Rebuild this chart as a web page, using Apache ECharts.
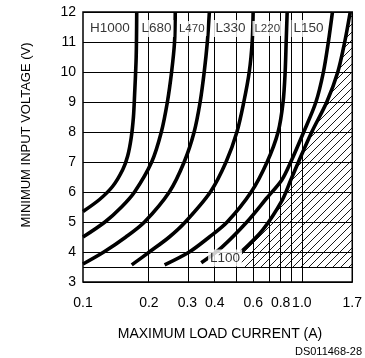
<!DOCTYPE html>
<html>
<head>
<meta charset="utf-8">
<script src="https://cdn.jsdelivr.net/npm/echarts@6/dist/echarts.min.js"></script>
<style>
  html, body { margin: 0; padding: 0; background: #fff; }
  #chart { width: 365px; height: 358px; }
</style>
</head>
<body>
<div id="chart"></div>
<script>
// Inductor selection curves: [maximum load current (A), minimum input voltage (V)]
const H1000 = [[0.100, 5.35], [0.119, 5.75], [0.137, 6.2], [0.152, 6.75], [0.160, 7.2], [0.166, 7.8], [0.170, 8.5], [0.172, 9.2], [0.175, 10.5], [0.176, 12]];
const L680  = [[0.100, 4.5], [0.126, 5.0], [0.150, 5.5], [0.172, 6.0], [0.206, 7.0], [0.228, 8.0], [0.243, 9.0], [0.254, 10.0], [0.262, 11.0], [0.264, 12]];
const L470  = [[0.100, 3.6], [0.1245, 4.0], [0.157, 4.5], [0.191, 5.0], [0.248, 6.0], [0.290, 7.0], [0.322, 8.0], [0.343, 9.0], [0.358, 10.0], [0.370, 11.0], [0.378, 12]];
const L330  = [[0.167, 3.57], [0.201, 4.0], [0.248, 4.5], [0.2935, 5.0], [0.382, 6.0], [0.4505, 7.0], [0.505, 8.0], [0.543, 9.0], [0.575, 10.0], [0.593, 11.0], [0.599, 12]];
const L220  = [[0.236, 3.57], [0.306, 4.0], [0.378, 4.5], [0.456, 5.0], [0.587, 6.0], [0.694, 7.0], [0.779, 8.0], [0.821, 9.0], [0.839, 10.0], [0.848, 11.0], [0.857, 12]];
const L150  = [[0.347, 3.64], [0.428, 4.14], [0.561, 5.0], [0.692, 5.8], [0.810, 6.4], [0.890, 7.0], [1.020, 8.0], [1.160, 9.0], [1.255, 10.0], [1.322, 11.0], [1.38, 12]];
const L100  = [[0.527, 4.0], [0.663, 4.74], [0.815, 5.74], [0.890, 6.4], [0.965, 7.0], [1.110, 8.0], [1.30, 9.0], [1.46, 10.0], [1.57, 11.0], [1.664, 12]];

const curves = [H1000, L680, L470, L330, L220, L150, L100];
const curveNames = ['H1000', 'L680', 'L470', 'L330', 'L220', 'L150', 'L100'];

// Axis ranges, grid lines and tick labels
const xRange = [0.1, 1.7];
const yRange = [3, 12];
const xGridValues = [0.2, 0.3, 0.4, 0.5, 0.6, 0.7, 0.8, 0.9, 1.0];
const xTickLabels = [0.1, 0.2, 0.3, 0.4, 0.6, 0.8, 1.0, 1.7];
const yExtraGrid = [3.5];

// Shaded region lies right of the L100 curve, above 3.5 V
const hatchFloor = 3.5;

// Where each curve name is written, [current (A), voltage (V)]
const labelAnchors = [[0.1326, 11.45], [0.2167, 11.45], [0.314, 11.45], [0.472, 11.45], [0.695, 11.45], [1.072, 11.45], [0.446, 3.8]];
const smallLabels = ['L470', 'L220'];

const lg = Math.log10;
const FONT = '"Liberation Sans", Arial, sans-serif';

function hatchPattern() {
  const c = document.createElement('canvas');
  c.width = 8; c.height = 8;
  const g = c.getContext('2d');
  g.strokeStyle = '#000';
  g.lineWidth = 0.9;
  g.beginPath();
  g.moveTo(0, 8); g.lineTo(8, 0);
  g.moveTo(-1, 1); g.lineTo(1, -1);
  g.moveTo(7, 9); g.lineTo(9, 7);
  g.stroke();
  return c;
}
const pattern = hatchPattern();

const chart = echarts.init(document.getElementById('chart'), null, { renderer: 'canvas' });

const series = [];

// grid lines at every 0.1 A and the extra 3.5 V line
series.push({
  type: 'line',
  data: [],
  z: 1,
  silent: true,
  markLine: {
    silent: true,
    animation: false,
    symbol: 'none',
    label: { show: false },
    lineStyle: { color: '#000', width: 1, type: 'solid' },
    data: xGridValues.map(v => ({ xAxis: lg(v) })).concat(yExtraGrid.map(v => ({ yAxis: v })))
  }
});

// hatched area
series.push({
  type: 'custom',
  z: 2,
  silent: true,
  clip: true,
  data: [0],
  renderItem: function (params, api) {
    const pts = L100.map(p => api.coord([lg(p[0]), p[1]]));
    pts.push(api.coord([lg(xRange[1]), yRange[1]]));
    pts.push(api.coord([lg(xRange[1]), hatchFloor]));
    pts.push(api.coord([lg(L100[0][0]), hatchFloor]));
    return {
      type: 'polygon',
      shape: { points: pts },
      style: { fill: { image: pattern, repeat: 'repeat' }, stroke: null }
    };
  }
});

curves.forEach((c, i) => {
  series.push({
    name: curveNames[i],
    type: 'line',
    z: 3,
    smooth: 0.3,
    symbol: 'none',
    clip: true,
    silent: true,
    lineStyle: { color: '#000', width: 3.6, cap: 'butt' },
    data: c.map(p => [lg(p[0]), p[1]])
  });
});

// curve names, boxed in white so the grid stops behind them
series.push({
  type: 'scatter',
  z: 10,
  silent: true,
  symbolSize: 0,
  data: curveNames.map((n, i) => ({
    name: n,
    value: [lg(labelAnchors[i][0]), labelAnchors[i][1]],
    label: { fontSize: smallLabels.includes(n) ? 11.5 : 13.5 }
  })),
  label: {
    show: true,
    position: 'inside',
    formatter: p => p.name,
    color: '#000',
    fontFamily: FONT,
    backgroundColor: '#fff',
    padding: [2, 2, 1, 2]
  }
});

chart.setOption({
  animation: false,
  backgroundColor: '#fff',
  grid: {
    left: 83, right: 11, top: 12, bottom: 76,
    show: true, borderColor: '#000', borderWidth: 1.5, backgroundColor: 'transparent'
  },
  xAxis: {
    type: 'value',
    min: lg(xRange[0]),
    max: lg(xRange[1]),
    axisLine: { show: false },
    axisTick: { show: false },
    splitLine: { show: false },
    axisLabel: {
      customValues: xTickLabels.map(lg),
      formatter: v => Math.pow(10, v).toFixed(1),
      color: '#000',
      fontSize: 14,
      fontFamily: FONT,
      margin: 14
    }
  },
  yAxis: {
    type: 'value',
    min: yRange[0],
    max: yRange[1],
    interval: 1,
    axisLine: { show: false },
    axisTick: { show: false },
    splitLine: { show: true, lineStyle: { color: '#000', width: 1 } },
    axisLabel: { color: '#000', fontSize: 14, fontFamily: FONT, margin: 7 }
  },
  graphic: [
    {
      type: 'text', x: 26, y: 135, rotation: Math.PI / 2,
      style: {
        text: 'MINIMUM INPUT VOLTAGE (V)', fill: '#000', font: '13px ' + FONT,
        align: 'center', verticalAlign: 'middle', textAlign: 'center', textVerticalAlign: 'middle'
      }
    },
    {
      type: 'text', x: 220, y: 334,
      style: {
        text: 'MAXIMUM LOAD CURRENT (A)', fill: '#000', font: '14px ' + FONT,
        align: 'center', verticalAlign: 'middle', textAlign: 'center', textVerticalAlign: 'middle'
      }
    },
    {
      type: 'text', x: 362, y: 352,
      style: {
        text: 'DS011468-28', fill: '#000', font: '11px ' + FONT,
        align: 'right', verticalAlign: 'middle', textAlign: 'right', textVerticalAlign: 'middle'
      }
    }
  ],
  series: series
});
</script>
</body>
</html>
